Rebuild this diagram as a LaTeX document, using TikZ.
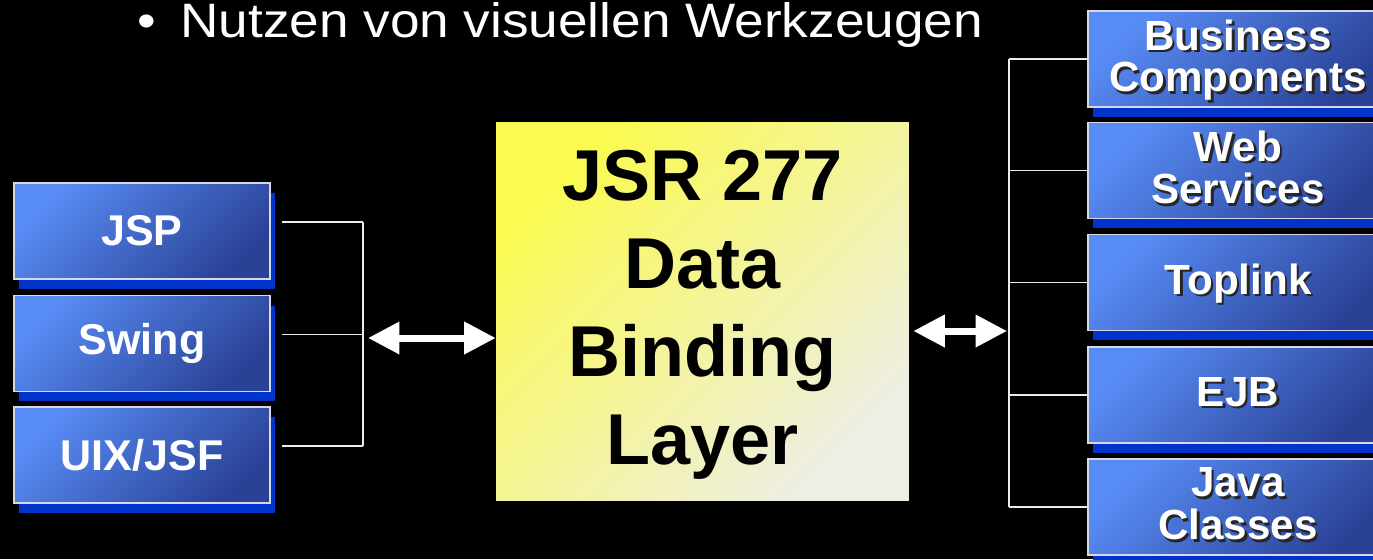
\documentclass[tikz,border=0pt]{standalone}
\usepackage{fontspec}
\setmainfont{Liberation Sans}
\newfontfamily\headfont[FakeStretch=1.1]{Liberation Sans}
\usetikzlibrary{arrows.meta,shadows}
\definecolor{boxlight}{RGB}{88,140,245}
\definecolor{boxdark}{RGB}{42,66,150}
\definecolor{shblue}{RGB}{0,51,204}
\definecolor{rimgray}{RGB}{215,215,230}
\definecolor{coreyellow}{RGB}{250,250,80}
\definecolor{corewhite}{RGB}{238,238,228}
\newcommand{\lowered}[2]{\raisebox{#1}[\height][\depth]{\begin{tabular}{@{}c@{}}#2\end{tabular}}}
\newcommand{\embossed}[1]{\raisebox{-2.3pt}[\height][\depth]{\rlap{\kern1.4pt\raisebox{-1.4pt}{\color{black!85}\begin{tabular}{@{}c@{}}#1\end{tabular}}}\begin{tabular}{@{}c@{}}#1\end{tabular}}}

\begin{document}
\begin{tikzpicture}[x=0.02cm,y=-0.02cm,
		client/.style={draw=rimgray,line width=1.1pt,top color=boxlight,bottom color=boxdark,shading angle=45,
			minimum width=5.12cm,minimum height=1.92cm,text=white,font=\fontsize{24.5}{29}\selectfont\bfseries,
			drop shadow={shadow xshift=0.1cm,shadow yshift=-0.2cm,fill=shblue,opacity=1}},
		source/.style={client,minimum width=6cm,font=\fontsize{24}{23}\selectfont\bfseries},
		core/.style={top color=coreyellow,bottom color=corewhite,shading angle=45,
			minimum width=8.26cm,minimum height=7.58cm,font=\fontsize{41}{50}\selectfont\bfseries},
		wire/.style={draw=white!85!gray,line width=0.8pt},
		twoway/.style={white,line width=0.14cm,{Triangle[length=0.63cm,width=0.62cm]}-{Triangle[length=0.63cm,width=0.62cm]}}]
	\tikzstyle{every node}+=[inner sep=0pt]
	\fill [black] (0,0) rectangle (1373,559);
	\clip (0,0) rectangle (1373,559);
	\node [anchor=base west,text=white,font=\headfont\fontsize{27.5}{30}\selectfont] (title) at (180,37) {\llap{•\hspace{14pt}}Nutzen von visuellen Werkzeugen};
	\node [client] (jsp) at (142,231) {JSP};
	\node [client] (swing) at (142,343.5) {Swing};
	\node [client] (uix) at (142,455) {UIX/JSF};
	\node [core] (jsr) at (702.5,311.5) {\lowered{-2pt}{JSR 277\\Data\\Binding\\Layer}};
	\node [source] (biz) at (1238,59) {\embossed{Business\\Components}};
	\node [source] (web) at (1238,170.5) {\embossed{Web\\Services}};
	\node [source] (toplink) at (1238,282.5) {\embossed{Toplink}};
	\node [source] (ejb) at (1238,395) {\embossed{EJB}};
	\node [source] (java) at (1238,507) {\embossed{Java\\Classes}};
	\coordinate (lbar) at (363,338);
	\coordinate (rbar) at (1009,331);
	\foreach \n in {jsp,swing,uix}{
		\coordinate (\n-w) at ([shift={(11,-9)}]\n.east);
		\draw [wire] (\n-w) -- (\n-w -| lbar);
	}
	\draw [wire] (jsp-w -| lbar) -- (uix-w -| lbar);
	\foreach \n in {biz,web,toplink,ejb,java}
		\draw [wire] (\n.west) -- (\n.west -| rbar);
	\draw [wire] (biz.west -| rbar) -- (java.west -| rbar);
	\coordinate (la) at ([shift={(5,0)}]lbar);
	\coordinate (lb) at (jsr.west |- lbar);
	\coordinate (ra) at ([shift={(4,0)}]jsr.east |- rbar);
	\coordinate (rb) at ([shift={(-2,0)}]rbar);
	\draw [twoway] (la) -- (lb);
	\draw [twoway] (ra) -- (rb);
\end{tikzpicture}
\end{document}
